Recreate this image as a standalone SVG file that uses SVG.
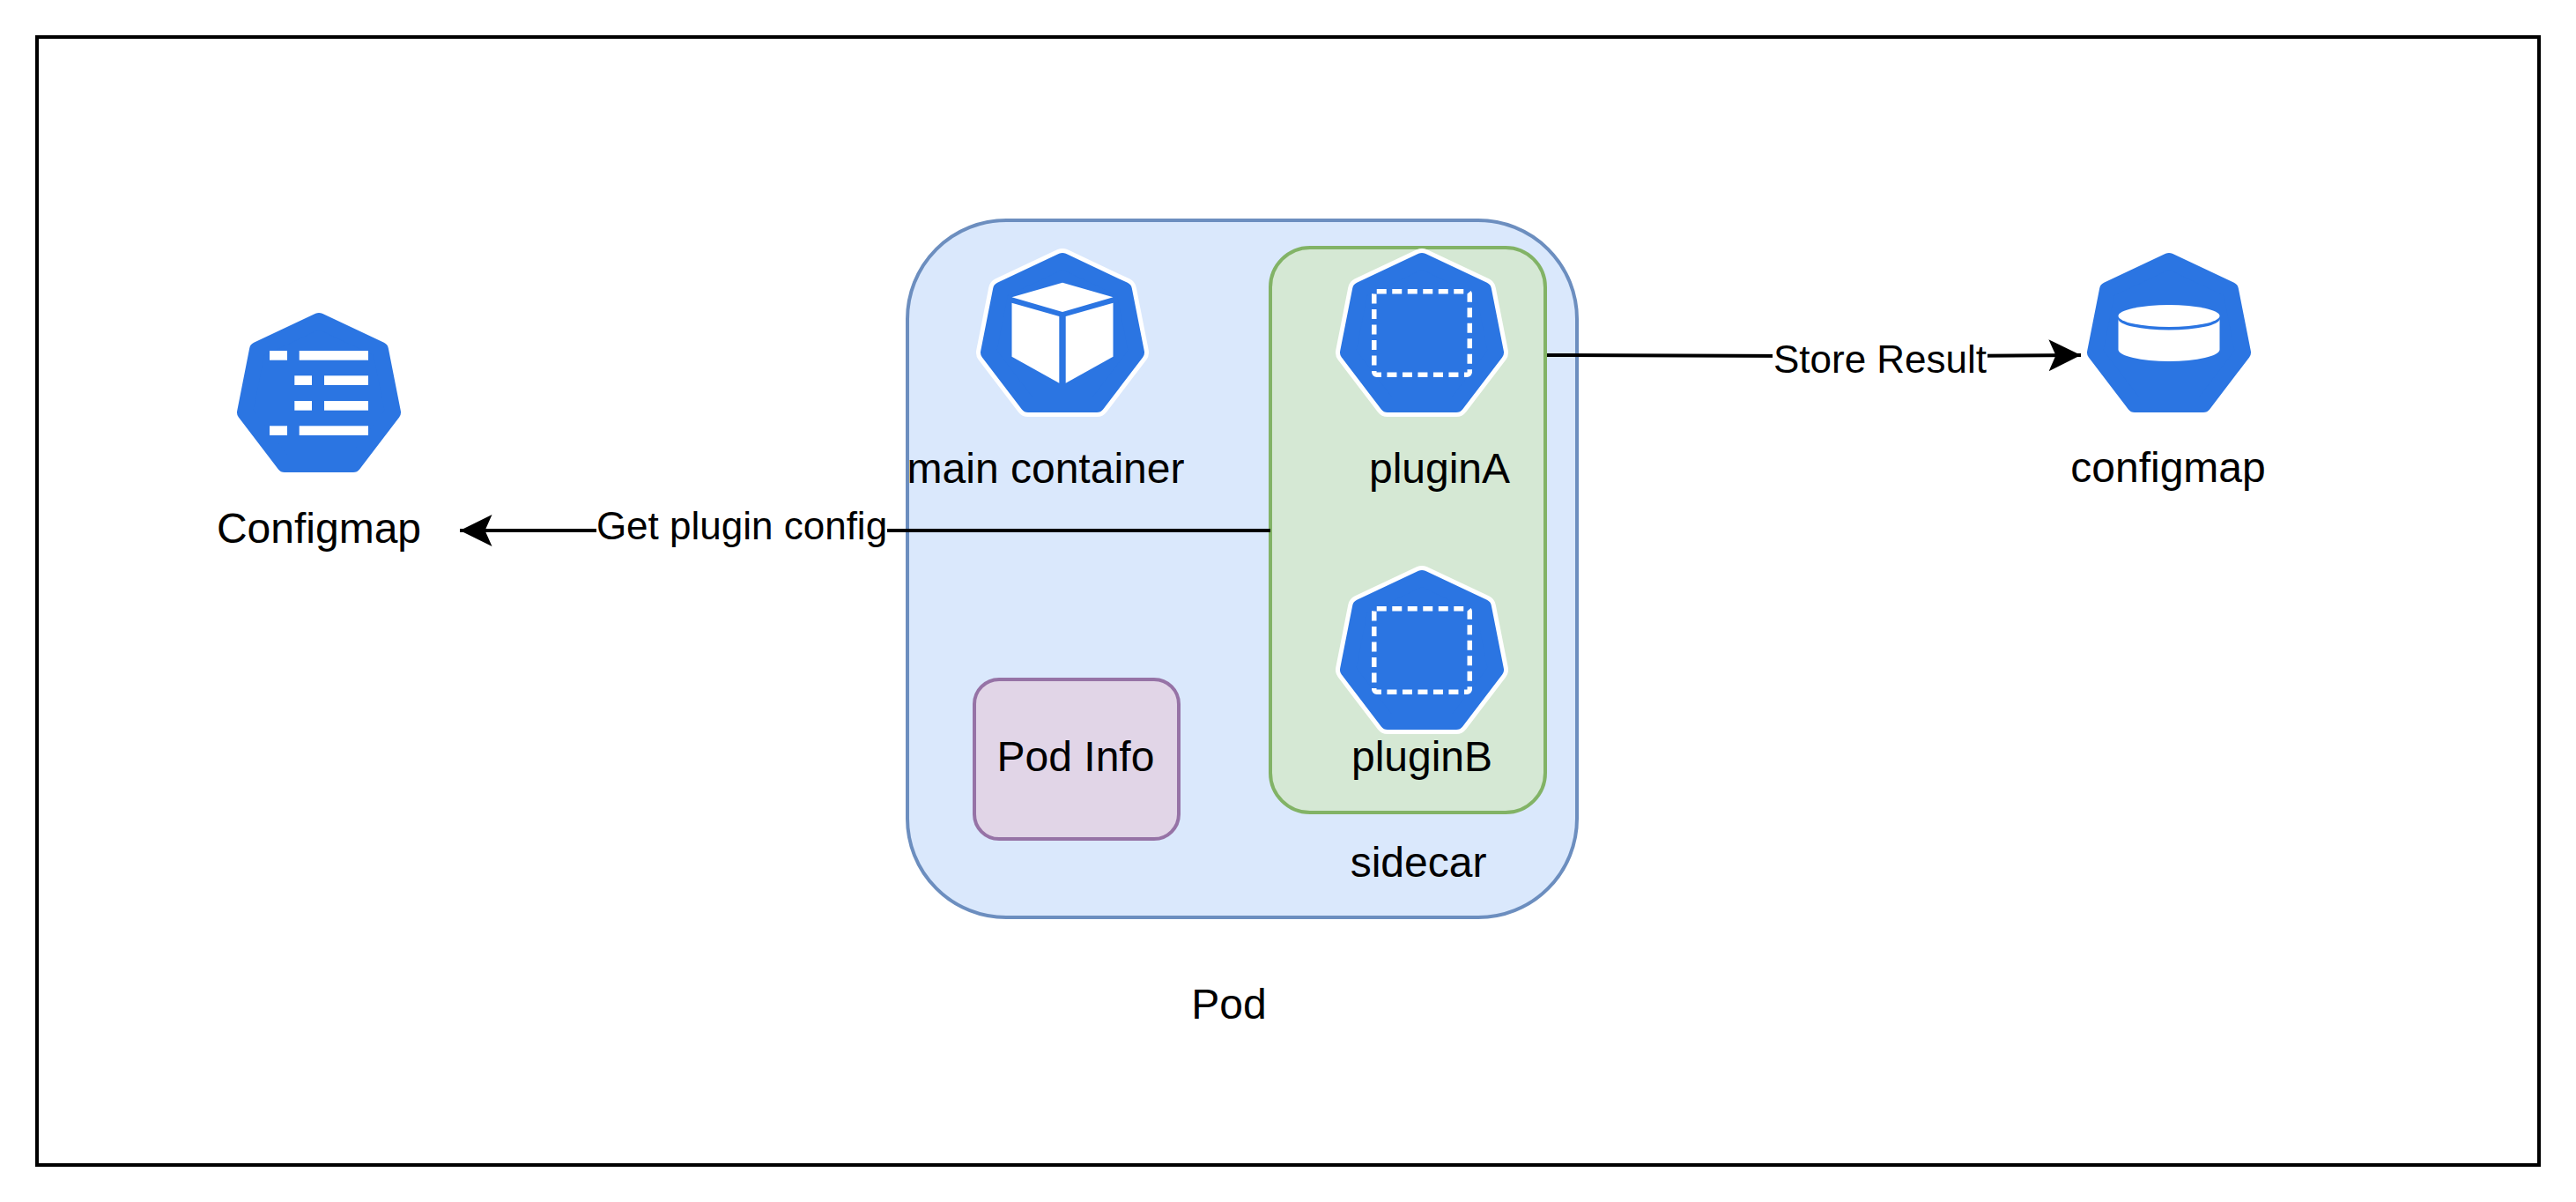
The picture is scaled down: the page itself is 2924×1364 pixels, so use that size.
<svg xmlns="http://www.w3.org/2000/svg" xmlns:xlink="http://www.w3.org/1999/xlink" width="2924" height="1364" viewBox="0 0 2924 1364">
<style>
text{font-family:"Liberation Sans",Arial,sans-serif;fill:#000;text-anchor:middle}
.lg{font-size:48px}
.el{font-size:44px}
.blue{fill:#2b75e2;stroke:#2b75e2;stroke-width:18;stroke-linejoin:round}
.halo{fill:#fff;stroke:#fff;stroke-width:28;stroke-linejoin:round}
.wh{fill:#fff}
.dash{fill:none;stroke:#fff;stroke-width:5.5;stroke-dasharray:11 6.5;stroke-linejoin:round}
.edge{fill:none;stroke:#000;stroke-width:4}
</style>
<defs>
<polygon id="hept" points="0,9 70,42 84,113 39,172 -39,172 -84,113 -70,42"/>
<marker id="arrow" markerUnits="userSpaceOnUse" markerWidth="40" markerHeight="40" refX="36.5" refY="20" orient="auto">
<path d="M36.5,20 L0,2 L8,20 L0,38 Z" fill="#000"/>
</marker>
</defs>
<rect id="frame" x="42" y="42" width="2840" height="1280" fill="#fff" stroke="#000" stroke-width="4"/>

<g id="pod">
<rect x="1030" y="250" width="760" height="791" rx="112" ry="112" fill="#dae8fc" stroke="#6c8ebf" stroke-width="4"/>
<text class="lg" x="1395" y="1156">Pod</text>
</g>
<g id="sidecar">
<rect x="1442" y="281" width="312" height="641" rx="45" ry="45" fill="#d5e8d4" stroke="#82b366" stroke-width="4"/>
<text class="lg" x="1610" y="995">sidecar</text>
</g>
<g id="pod-info">
<rect x="1106" y="771" width="232" height="181" rx="28" ry="28" fill="#e1d5e7" stroke="#9673a6" stroke-width="4"/>
<text class="lg" x="1221" y="875">Pod Info</text>
</g>

<g id="configmap-left">
<use xlink:href="#hept" href="#hept" class="blue" transform="translate(362 355)"/>
<g class="wh">
<rect x="306" y="398" width="20" height="10.7"/><rect x="339.7" y="398" width="78.3" height="10.7"/>
<rect x="334.3" y="426.3" width="19.7" height="10.7"/><rect x="368" y="426.3" width="50" height="10.7"/>
<rect x="334.3" y="455" width="19.7" height="10.7"/><rect x="368" y="455" width="50" height="10.7"/>
<rect x="306" y="483.3" width="20" height="10.7"/><rect x="339.7" y="483.3" width="78.3" height="10.7"/>
</g>
<text class="lg" x="362" y="616">Configmap</text>
</g>

<g id="main-container">
<use xlink:href="#hept" href="#hept" class="halo" transform="translate(1206 287)"/>
<use xlink:href="#hept" href="#hept" class="blue" transform="translate(1206 287)"/>
<g class="wh" transform="translate(1206 287)">
<polygon points="0,33.7 57.5,50.3 0,67 -57.5,50.3"/>
<polygon points="-57.5,56.7 -3.7,72 -3.7,147.7 -57.5,117.7"/>
<polygon points="57.5,56.7 3.7,72 3.7,147.7 57.5,117.7"/>
</g>
<text class="lg" x="1187" y="548">main container</text>
</g>

<g id="plugin-a">
<use xlink:href="#hept" href="#hept" class="halo" transform="translate(1614 287)"/>
<use xlink:href="#hept" href="#hept" class="blue" transform="translate(1614 287)"/>
<rect class="dash" x="1559.75" y="330.75" width="108.5" height="94.5" rx="3"/>
<text class="lg" x="1634" y="548">pluginA</text>
</g>

<g id="plugin-b">
<use xlink:href="#hept" href="#hept" class="halo" transform="translate(1614 647)"/>
<use xlink:href="#hept" href="#hept" class="blue" transform="translate(1614 647)"/>
<rect class="dash" x="1559.75" y="690.75" width="108.5" height="94.5" rx="3"/>
<text class="lg" x="1614" y="875">pluginB</text>
</g>

<g id="configmap-right">
<use xlink:href="#hept" href="#hept" class="blue" transform="translate(2462 287)"/>
<ellipse class="wh" cx="2462" cy="358.5" rx="57.5" ry="12.5"/>
<path class="wh" d="M2404.5,362 A57.5,12.5 0 0 0 2519.5,362 V396.7 A57.5,13.3 0 0 1 2404.5,396.7 Z"/>
<text class="lg" x="2461" y="547">configmap</text>
</g>

<g id="connectors">
<path class="edge" d="M1442,602 L522,602" marker-end="url(#arrow)"/>
<path class="edge" d="M1756,403 L2135,404.5 L2362,403" marker-end="url(#arrow)"/>
<rect x="677" y="580" width="330" height="44" fill="#fff"/>
<text class="el" x="842" y="612">Get plugin config</text>
<rect x="2012" y="382" width="244" height="44" fill="#fff"/>
<text class="el" x="2134" y="423">Store Result</text>
</g>
</svg>
